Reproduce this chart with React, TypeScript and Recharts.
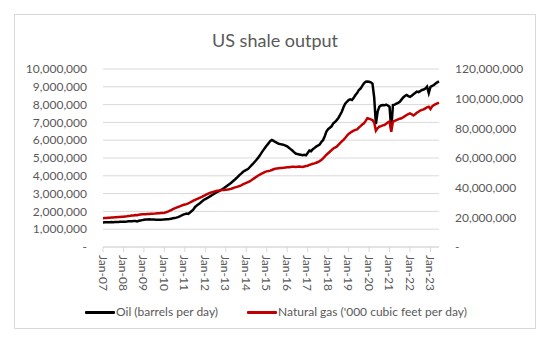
import { LineChart, Line, XAxis, YAxis, CartesianGrid } from 'recharts';

const monthNames = ['Jan', 'Feb', 'Mar', 'Apr', 'May', 'Jun', 'Jul', 'Aug', 'Sep', 'Oct', 'Nov', 'Dec'];
const years = ['07', '08', '09', '10', '11', '12', '13', '14', '15', '16', '17', '18', '19', '20', '21', '22', '23'];

// oil, thousand barrels per day (Jan-07 .. Jun-23)
const oilKbd = [
  1380, 1385, 1390, 1385, 1395, 1400, 1395, 1400, 1405, 1410, 1415, 1420,
  1420, 1425, 1430, 1440, 1445, 1450, 1455, 1460, 1440, 1470, 1490, 1510,
  1530, 1540, 1550, 1555, 1550, 1545, 1540, 1535, 1530, 1530, 1535, 1540,
  1550, 1555, 1560, 1570, 1590, 1610, 1630, 1650, 1680, 1720, 1770, 1820,
  1850, 1880, 1860, 1940, 2020, 2110, 2250, 2330, 2400, 2470, 2560, 2640,
  2690, 2740, 2800, 2860, 2920, 2980, 3040, 3090, 3140, 3200, 3250, 3310,
  3380, 3450, 3520, 3600, 3680, 3760, 3850, 3940, 4040, 4120, 4210, 4280,
  4330, 4380, 4480, 4580, 4680, 4790, 4900, 5020, 5150, 5300, 5440, 5580,
  5700, 5820, 5950, 6010, 5960, 5900, 5850, 5800, 5780, 5760, 5740, 5700,
  5650, 5580, 5500, 5420, 5330, 5250, 5220, 5200, 5180, 5160, 5180, 5150,
  5280, 5420, 5380, 5500, 5560, 5640, 5700, 5750, 5900, 6000, 6220, 6480,
  6620, 6700, 6780, 6950, 7020, 7130, 7250, 7420, 7600, 7850, 8050, 8160,
  8250, 8300, 8260, 8380, 8540, 8650, 8820, 8900, 9050, 9200, 9290, 9300,
  9280, 9250, 9180, 8400, 6900, 7600, 7880, 7950, 7980, 7960, 8000, 7950,
  7880, 6600, 7980, 8000, 8050, 8100, 8160, 8280, 8400, 8480, 8540, 8480,
  8440, 8500, 8580, 8650, 8730, 8700, 8760, 8820, 8850, 8900, 9010, 8650,
  9000, 9050, 9100, 9180, 9250, 9300,
];

// natural gas, million '000 cubic feet per day
const gasMcfd = [
  19.4, 19.5, 19.6, 19.7, 19.8, 19.9, 19.9, 20.0, 20.1, 20.2, 20.3, 20.4,
  20.4, 20.6, 20.7, 20.9, 21.0, 21.2, 21.3, 21.5, 21.4, 21.7, 21.9, 22.0,
  22.0, 22.1, 22.2, 22.3, 22.4, 22.4, 22.5, 22.6, 22.7, 22.8, 22.9, 23.0,
  23.1, 23.4, 23.8, 24.3, 24.9, 25.5, 26.1, 26.6, 27.0, 27.4, 27.9, 28.3,
  28.6, 28.9, 29.4, 30.0, 30.6, 31.2, 31.8, 32.3, 32.8, 33.3, 33.8, 34.4,
  35.0, 35.6, 36.2, 36.6, 37.0, 37.3, 37.6, 37.9, 38.0, 38.2, 38.4, 38.5,
  38.6, 38.7, 38.9, 39.2, 39.6, 40.0, 40.4, 40.7, 41.1, 41.6, 42.2, 42.8,
  43.3, 43.8, 44.3, 45.0, 45.8, 46.6, 47.4, 48.2, 48.8, 49.4, 50.0, 50.6,
  51.0, 51.2, 51.5, 51.9, 52.4, 52.8, 53.0, 53.1, 53.2, 53.3, 53.5, 53.6,
  53.7, 53.8, 54.0, 54.1, 54.1, 54.0, 54.1, 54.2, 54.1, 54.0, 54.3, 54.6,
  54.8, 55.3, 55.7, 56.1, 56.4, 56.8, 57.3, 57.9, 58.7, 59.8, 61.0, 62.2,
  63.2, 64.2, 65.3, 66.4, 67.0, 67.6, 68.8, 70.0, 71.2, 72.2, 73.5, 75.0,
  76.2, 77.0, 77.8, 78.5, 79.0, 79.3, 80.5, 81.5, 82.6, 83.4, 85.0, 86.8,
  86.5, 86.0, 85.6, 84.0, 78.4, 80.0, 81.1, 81.5, 82.0, 82.2, 83.0, 84.0,
  84.5, 77.7, 84.5, 85.0, 85.5, 86.0, 86.5, 86.8, 87.5, 88.2, 89.0, 89.6,
  90.1, 89.5, 88.7, 89.5, 90.5, 91.2, 92.0, 92.4, 92.8, 93.5, 94.2, 94.6,
  93.0, 94.8, 95.7, 96.3, 96.8, 97.3,
];

const oilTicks = [0, 1000000, 2000000, 3000000, 4000000, 5000000, 6000000, 7000000, 8000000, 9000000, 10000000];
const gasTicks = [0, 20000000, 40000000, 60000000, 80000000, 100000000, 120000000];

const months = years.flatMap((y) => monthNames.map((m) => `${m}-${y}`));

const chartData = oilKbd.map((oil, i) => ({
  month: months[i],
  oil: oil * 1000,
  gas: gasMcfd[i] * 1000000,
}));

const FONT = 'Lato, "Open Sans", sans-serif';
const TEXT = '#595959';
const GRID = '#d9d9d9';

const fmt = (v: number) => (v === 0 ? '-' : v.toLocaleString('en-US'));

function MonthTick({ x, y, payload }: any) {
  return (
    <text
      x={x}
      y={y}
      transform={`rotate(90 ${x} ${y})`}
      textAnchor="start"
      dominantBaseline="central"
      fill={TEXT}
      fontSize={12}
      fontFamily={FONT}
    >
      {payload.value}
    </text>
  );
}

function LegendItem({ color, label }: { color: string; label: string }) {
  return (
    <div style={{ display: 'flex', alignItems: 'center' }}>
      <div style={{ width: 30, height: 3, background: color, borderRadius: 1 }} />
      <span style={{ marginLeft: 1 }}>{label}</span>
    </div>
  );
}

export default function App() {
  return (
    <div style={{ position: 'relative', width: 550, height: 347, background: '#fff', fontFamily: FONT }}>
      <style>{'body{margin:0}'}</style>
      <div
        style={{
          position: 'absolute',
          left: 14,
          top: 14,
          width: 520,
          height: 313,
          border: `1px solid ${GRID}`,
        }}
      />
      <div
        style={{
          position: 'absolute',
          top: 28,
          left: 0,
          width: 550,
          textAlign: 'center',
          fontSize: 18,
          color: TEXT,
          lineHeight: '24px',
        }}
      >
        US shale output
      </div>
      <LineChart width={550} height={347} data={chartData} margin={{ top: 69, right: 0, bottom: 0, left: 0 }}>
        <CartesianGrid yAxisId="left" vertical={false} stroke={GRID} />
        <XAxis
          dataKey="month"
          interval={11}
          height={100}
          tick={<MonthTick />}
          tickSize={5}
          tickMargin={3}
          axisLine={{ stroke: GRID }}
          tickLine={{ stroke: GRID }}
        />
        <YAxis
          yAxisId="left"
          domain={[0, 10000000]}
          ticks={oilTicks}
          interval={0}
          tickFormatter={fmt}
          width={103}
          axisLine={false}
          tickLine={false}
          tickSize={0}
          tickMargin={16}
          tick={{ fill: TEXT, fontSize: 12, fontFamily: FONT }}
        />
        <YAxis
          yAxisId="right"
          orientation="right"
          domain={[0, 120000000]}
          ticks={gasTicks}
          interval={0}
          tickFormatter={fmt}
          width={111}
          axisLine={false}
          tickLine={false}
          tickSize={0}
          tickMargin={16}
          tick={{ fill: TEXT, fontSize: 12, fontFamily: FONT, textAnchor: 'start' }}
        />
        <Line
          yAxisId="left"
          dataKey="oil"
          stroke="#000000"
          strokeWidth={2.5}
          dot={false}
          type="linear"
          isAnimationActive={false}
        />
        <Line
          yAxisId="right"
          dataKey="gas"
          stroke="#c00000"
          strokeWidth={2.5}
          dot={false}
          type="linear"
          isAnimationActive={false}
        />
      </LineChart>
      <div
        style={{
          position: 'absolute',
          top: 303,
          left: 0,
          width: 552,
          display: 'flex',
          justifyContent: 'center',
          gap: 29,
          fontSize: 12,
          color: TEXT,
          lineHeight: '18px',
        }}
      >
        <LegendItem color="#000000" label="Oil (barrels per day)" />
        <LegendItem color="#c00000" label="Natural gas ('000 cubic feet per day)" />
      </div>
    </div>
  );
}
